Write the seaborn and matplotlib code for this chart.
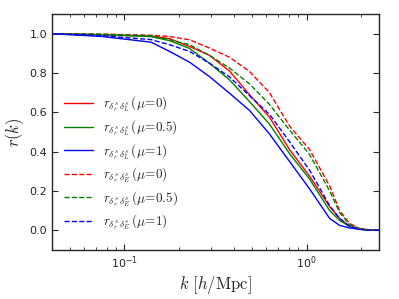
import numpy as np
import pandas as pd
import seaborn as sns
import matplotlib
matplotlib.use("Agg")
import matplotlib.pyplot as plt

# k values [h/Mpc]
k = [0.04, 0.075, 0.14, 0.177, 0.228, 0.293, 0.378, 0.486, 0.626, 0.807,
     1.04, 1.34, 1.52, 1.72, 1.95, 2.22, 2.5]

# cross-correlation coefficients
r_L_mu0 = [1.0, 0.995, 0.988, 0.975, 0.935, 0.89, 0.81, 0.69, 0.575, 0.41,
           0.275, 0.12, 0.06, 0.022, 0.007, 0.0, 0.0]
r_L_mu05 = [1.0, 0.995, 0.985, 0.965, 0.925, 0.85, 0.765, 0.655, 0.54, 0.39,
            0.26, 0.10, 0.05, 0.02, 0.007, 0.0, 0.0]
r_L_mu1 = [1.0, 0.986, 0.957, 0.91, 0.855, 0.782, 0.697, 0.61, 0.49, 0.35,
           0.21, 0.06, 0.025, 0.012, 0.005, 0.0, 0.0]
r_E_mu0 = [1.0, 0.998, 0.992, 0.986, 0.969, 0.927, 0.88, 0.808, 0.70, 0.53,
           0.41, 0.225, 0.10, 0.035, 0.01, 0.002, 0.0]
r_E_mu05 = [1.0, 0.997, 0.99, 0.969, 0.944, 0.89, 0.825, 0.745, 0.64, 0.51,
            0.385, 0.20, 0.09, 0.03, 0.008, 0.001, 0.0]
r_E_mu1 = [1.0, 0.99, 0.97, 0.944, 0.91, 0.85, 0.78, 0.685, 0.59, 0.45,
           0.305, 0.125, 0.06, 0.02, 0.006, 0.0, 0.0]

labels = [r"$r_{\delta^s_r\,\delta^s_L}\,(\mu\!=\!0)$",
          r"$r_{\delta^s_r\,\delta^s_L}\,(\mu\!=\!0.5)$",
          r"$r_{\delta^s_r\,\delta^s_L}\,(\mu\!=\!1)$",
          r"$r_{\delta^s_r\,\delta^s_E}\,(\mu\!=\!0)$",
          r"$r_{\delta^s_r\,\delta^s_E}\,(\mu\!=\!0.5)$",
          r"$r_{\delta^s_r\,\delta^s_E}\,(\mu\!=\!1)$"]
series = [r_L_mu0, r_L_mu05, r_L_mu1, r_E_mu0, r_E_mu05, r_E_mu1]
colors = ["#ff0000", "#008000", "#0000ff"] * 2
styles = ["-"] * 3 + ["--"] * 3

sns.set_style("ticks")
plt.rcParams["font.family"] = ["DejaVu Sans"]
plt.rcParams["mathtext.fontset"] = "cm"
plt.rcParams["xtick.direction"] = "in"
plt.rcParams["ytick.direction"] = "in"

fig = plt.figure(figsize=(3.99, 2.99), dpi=100)
ax = fig.add_axes([0.130, 0.164, 0.820, 0.789])

for y, lab, c, ls in zip(series, labels, colors, styles):
    df = pd.DataFrame({"k": k, "r": y})
    sns.lineplot(data=df, x="k", y="r", ax=ax, color=c, linestyle=ls,
                 linewidth=1.0, label=lab)

ax.set_xscale("log")
ax.set_xlim(0.04, 2.5)
ax.set_ylim(-0.1, 1.1)
ax.set_yticks([0.0, 0.2, 0.4, 0.6, 0.8, 1.0])
ax.tick_params(which="both", top=True, right=True, labelsize=8)
ax.tick_params(which="major", length=4)
ax.tick_params(which="minor", length=2)
for s in ax.spines.values():
    s.set_linewidth(1.0)

ax.set_xlabel(r"$k\ [h/\mathrm{Mpc}]$", fontsize=12, labelpad=2)
ax.set_ylabel(r"$r(k)$", fontsize=12, labelpad=2)

ax.legend(loc="lower left", bbox_to_anchor=(0.0, 0.025), frameon=False,
          fontsize=9.5, handlelength=2.2, labelspacing=0.3)

fig.savefig("out.png", dpi=100)
